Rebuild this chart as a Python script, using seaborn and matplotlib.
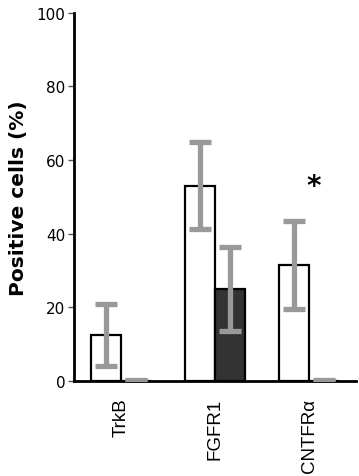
import matplotlib
matplotlib.use("Agg")
import matplotlib.pyplot as plt
import seaborn as sns
import pandas as pd
import numpy as np

categories = ["TrkB", "FGFR1", "CNTFR\u03b1"]
groups = ["A", "B"]
values_a = [12.5, 53.0, 31.5]
err_a = [8.5, 11.8, 12.0]
values_b = [0.0, 25.0, 0.0]
err_b = [0.0, 11.5, 0.0]

df = pd.DataFrame({
    "cat": categories * 2,
    "grp": [groups[0]] * 3 + [groups[1]] * 3,
    "val": values_a + values_b,
    "err": err_a + err_b,
})

sns.set_style("white")
plt.rcParams.update({"text.color": "black", "axes.labelcolor": "black",
                     "xtick.color": "black", "ytick.color": "black"})
fig = plt.figure(figsize=(3.59, 4.77), dpi=100)
ax = fig.add_axes([0.206, 0.199, 0.786, 0.772])

sns.barplot(data=df, x="cat", y="val", hue="grp", order=categories, hue_order=groups,
            palette=["white", "#333333"], edgecolor="black", linewidth=1.6,
            errorbar=None, width=0.64, legend=False, ax=ax)

patches = [p for p in ax.patches if p.get_width() > 0]
for p, (_, row) in zip(patches, df.iterrows()):
    cx = p.get_x() + p.get_width() / 2
    ax.errorbar(cx, row["val"], yerr=row["err"], fmt="none", ecolor="#999999",
                elinewidth=3.8, capsize=8, capthick=3.8, zorder=5)
for p, (_, row) in zip(patches, df.iterrows()):
    if row["val"] == 0:
        cx = p.get_x() + p.get_width() / 2
        ax.plot([cx - 0.12, cx + 0.12], [0.3, 0.3], color="#999999", lw=3.8,
                solid_capstyle="butt", zorder=5)

ax.text(2.05, 53, "*", ha="center", va="center", fontsize=20, fontweight="bold", color="black")

ax.set_xlim(-0.5, 2.5)
ax.set_ylim(0, 100)
ax.set_yticks([0, 20, 40, 60, 80, 100])
ax.set_yticklabels(["0", "20", "40", "60", "80", "100"], fontsize=11)
ax.set_xticks(range(3))
ax.set_xticklabels(categories, rotation=90, fontsize=13.5, family="Liberation Sans")
ax.set_xticks([-0.5, 0.5, 1.5, 2.5], minor=True)
ax.tick_params(axis="x", which="major", length=0, pad=12)
ax.tick_params(axis="x", which="minor", length=4, width=1, color="#555555", direction="out")
ax.tick_params(axis="y", length=4, width=1, color="#555555", direction="out", pad=2, left=True)
ax.set_xlabel("")
ax.set_ylabel("Positive cells (%)", fontsize=14.5, fontweight="bold", labelpad=6)

for s in ["top", "right"]:
    ax.spines[s].set_visible(False)
for s in ["left", "bottom"]:
    ax.spines[s].set_visible(True)
    ax.spines[s].set_color("black")
    ax.spines[s].set_linewidth(2)

fig.savefig("out.png", dpi=100)
